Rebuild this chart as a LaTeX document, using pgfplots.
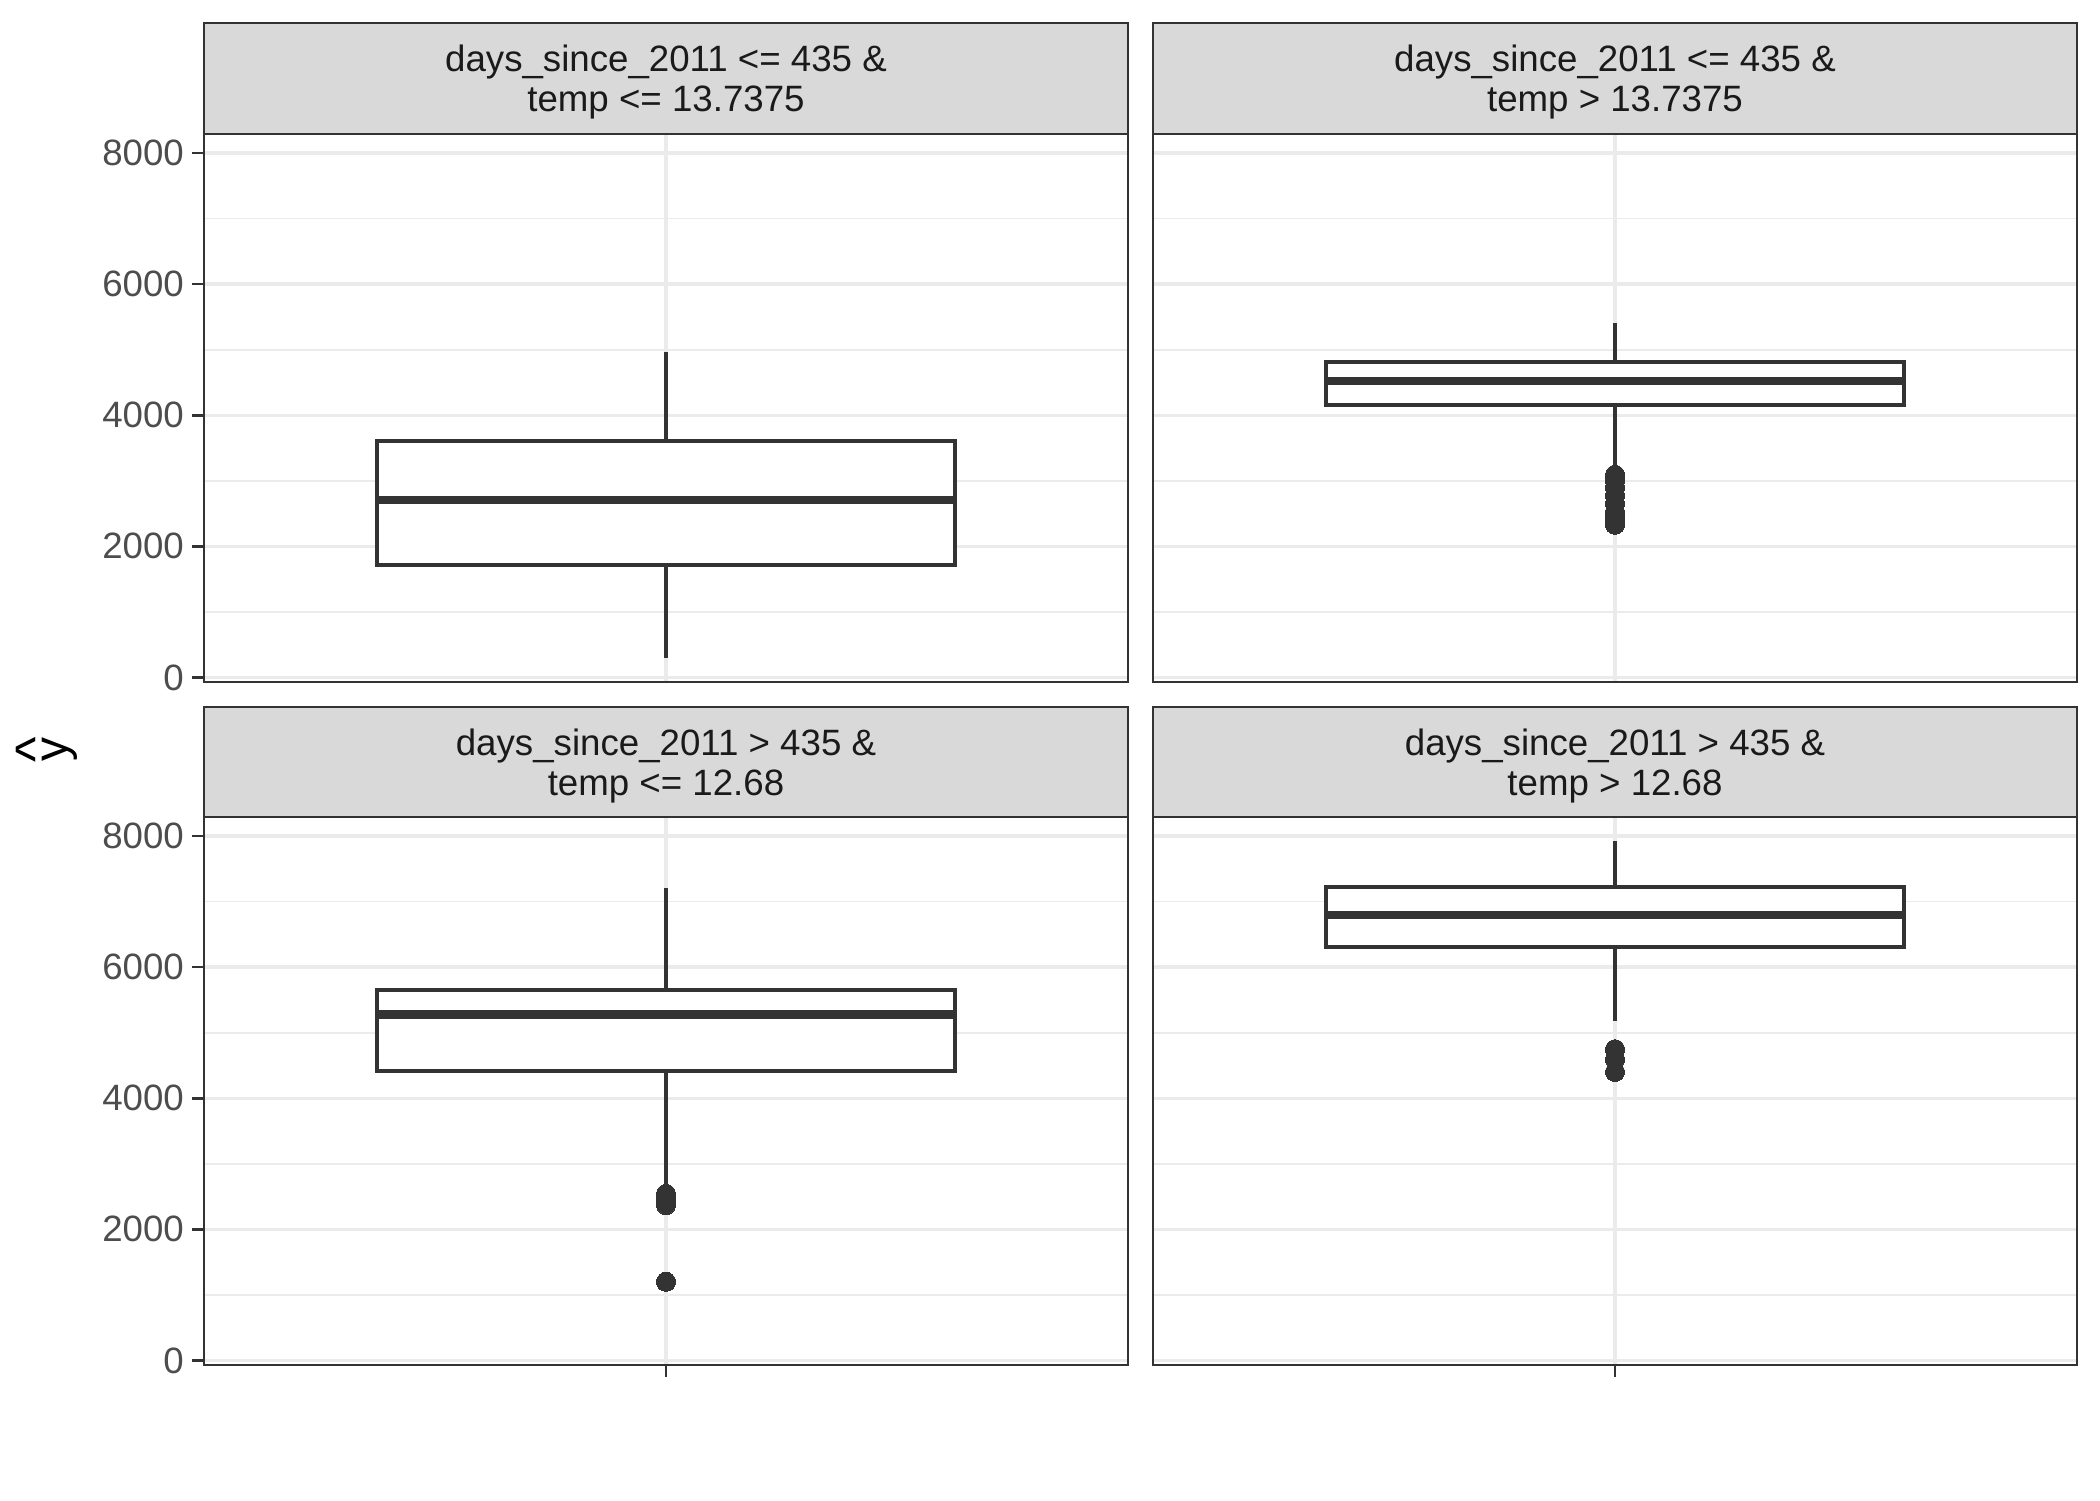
\documentclass[border=0pt]{standalone}
\usepackage{pgfplots}
\pgfplotsset{compat=1.18}
\usepgfplotslibrary{statistics}
\usepackage{fontspec}
\setmainfont{Liberation Sans}
\definecolor{dk}{HTML}{333333}
\definecolor{grd}{HTML}{EBEBEB}
\definecolor{tl}{HTML}{4D4D4D}
\definecolor{stripbg}{HTML}{D9D9D9}
\definecolor{striptxt}{HTML}{1A1A1A}
\pgfplotsset{
 panel/.style={
  scale only axis, width=221.76pt, height=131.52pt, anchor=south west,
  xmin=0.4, xmax=1.6, ymin=-70, ymax=8290,
  xtick={1}, xticklabels={},
  ytick={0,2000,4000,6000,8000},
  minor ytick={1000,3000,5000,7000},
  grid=both,
  major grid style={grd, line width=0.8pt},
  minor grid style={grd, line width=0.4pt},
  axis line style={dk, line width=0.45pt},
  tick align=outside, major tick length=2.8pt, minor tick length=0pt,
  tick style={dk, line width=0.64pt},
  xtick pos=bottom, ytick pos=left,
  ticklabel style={tl, font=\fontsize{8.8}{10}\selectfont},
  yticklabel style={xshift=1.5pt},
  /pgf/number format/assume math mode=true,
  /pgf/number format/1000 sep={},
  scaled y ticks=false,
  boxplot/box extend=0.75,
  boxplot/whisker extend=0,
  boxplot/draw direction=y,
 },
 bx/.style={dk, line width=0.96pt, fill=white, mark=*, mark size=2.3pt,
   mark options={draw=dk, fill=dk, line width=0pt},
   boxplot/every median/.style={line width=2pt}},
 notopx/.style={xtick style={draw=none}},
 noleft/.style={yticklabels={}, ytick style={draw=none}},
}
\tikzset{
 strip/.style={dk, line width=0.45pt, fill=stripbg},
 striptext/.style={align=center, text=striptxt, font=\fontsize{8.8}{9.6}\selectfont},
}
\begin{document}
\begin{tikzpicture}
\path[use as bounding box] (0,0) rectangle (504pt,360pt);

% top left
\begin{axis}[panel, notopx, name=A, at={(48.96pt,196.32pt)}]
\addplot+[bx, boxplot prepared={lower whisker=298, lower quartile=1717, median=2709, upper quartile=3609, upper whisker=4964, draw position=1}] coordinates {};
\end{axis}
\draw[strip] (A.north west) rectangle ++(221.76pt,26.6pt);
\node[striptext] at ([yshift=12.4pt]A.north) {days\_since\_2011 <= 435 \&\\temp <= 13.7375};

% top right
\begin{axis}[panel, notopx, noleft, name=B, at={(276.72pt,196.32pt)}]
\addplot+[bx, boxplot prepared={lower whisker=3243, lower quartile=4153, median=4522, upper quartile=4808, upper whisker=5401, draw position=1}] coordinates {(1,3090) (1,3000) (1,2900) (1,2780) (1,2650) (1,2520) (1,2420) (1,2330)};
\end{axis}
\draw[strip] (B.north west) rectangle ++(221.76pt,26.6pt);
\node[striptext] at ([yshift=12.4pt]B.north) {days\_since\_2011 <= 435 \&\\temp > 13.7375};

% bottom left
\begin{axis}[panel, name=C, at={(48.96pt,32.4pt)}]
\addplot+[bx, boxplot prepared={lower whisker=2650, lower quartile=4419, median=5279, upper quartile=5647, upper whisker=7202, draw position=1}] coordinates {(1,2540) (1,2460) (1,2370) (1,1200)};
\end{axis}
\draw[strip] (C.north west) rectangle ++(221.76pt,26.5pt);
\node[striptext] at ([yshift=12.35pt]C.north) {days\_since\_2011 > 435 \&\\temp <= 12.68};

% bottom right
\begin{axis}[panel, noleft, name=D, at={(276.72pt,32.4pt)}]
\addplot+[bx, boxplot prepared={lower whisker=5176, lower quartile=6302, median=6793, upper quartile=7222, upper whisker=7918, draw position=1}] coordinates {(1,4747) (1,4593) (1,4400)};
\end{axis}
\draw[strip] (D.north west) rectangle ++(221.76pt,26.5pt);
\node[striptext] at ([yshift=12.35pt]D.north) {days\_since\_2011 > 435 \&\\temp > 12.68};

\node[rotate=90, anchor=base, inner sep=0pt, font=\fontsize{11.5}{14}\selectfont] at (16.3pt,180pt) {\ooalign{y\cr\hidewidth\raisebox{0.3em}{\fontsize{13}{14}\selectfont\textasciicircum}\hidewidth\cr}};
\end{tikzpicture}
\end{document}
